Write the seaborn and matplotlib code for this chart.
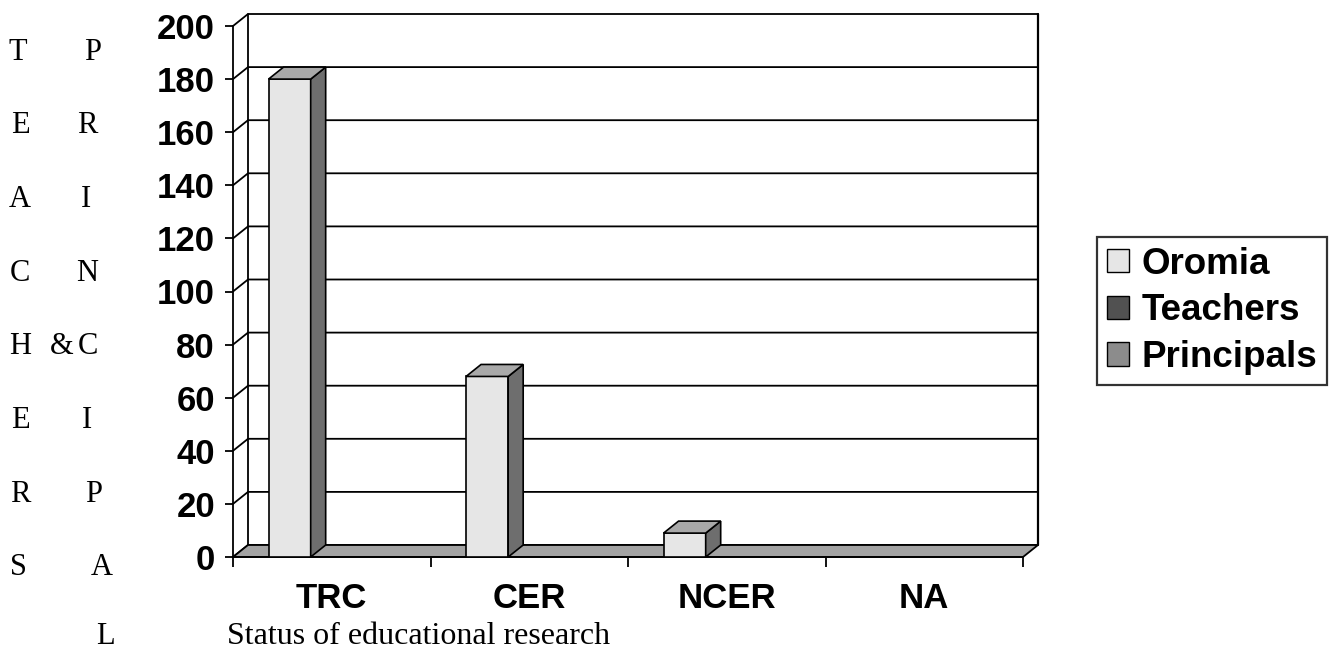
import matplotlib
matplotlib.use("Agg")
import matplotlib.pyplot as plt
from matplotlib.patches import Polygon, Patch
import pandas as pd
import seaborn as sns

# chart data
categories = ["TRC", "CER", "NCER", "NA"]
series_names = ["Oromia", "Teachers", "Principals"]
oromia = [180, 68, 9, 0]
teachers = [0, 0, 0, 0]
principals = [0, 0, 0, 0]
y_ticks = [0, 20, 40, 60, 80, 100, 120, 140, 160, 180, 200]
left_letters = list("TEACHERS")
right_letters = list("PRINCIPAL")

front_colors = {"Oromia": "#e6e6e6", "Teachers": "#515151", "Principals": "#8c8c8c"}
side_colors = {"Oromia": "#6e6e6e", "Teachers": "#333333", "Principals": "#5a5a5a"}
top_colors = {"Oromia": "#a9a9a9", "Teachers": "#404040", "Principals": "#777777"}

W, H = 1342, 653
DEPTH_PX = (15, 12)  # 3d offset of the back wall, in pixels


def fig_xy(x, y):
	# picture pixel -> figure fraction
	return x / W, 1 - y / H


df = pd.DataFrame({
	"status": categories * 3,
	"group": [n for n in series_names for _ in categories],
	"count": oromia + teachers + principals,
})

sns.set_style("white")
plt.rcParams["font.family"] = ["Liberation Sans", "DejaVu Sans"]
plt.rcParams["text.color"] = "black"

fig = plt.figure(figsize=(W / 100, H / 100), dpi=100)
ax = fig.add_axes([233 / W, 96 / H, 790 / W, 531 / H])

sns.barplot(data=df, x="status", y="count", hue="group", order=categories,
			hue_order=series_names, palette=front_colors, width=0.64,
			saturation=1, edgecolor="black", linewidth=1.2, legend=False,
			ax=ax, zorder=4)

ax.set_xlim(-0.5, 3.5)
ax.set_ylim(0, 200)

# size of the depth offset in data units
x0, y0 = ax.transData.transform((0, 0))
x1, y1 = ax.transData.transform((1, 1))
ddx = DEPTH_PX[0] / (x1 - x0)
ddy = DEPTH_PX[1] / (y1 - y0)

# back wall + side wall gridlines
for v in y_ticks:
	ax.plot([-0.5, -0.5 + ddx, 3.5 + ddx], [v, v + ddy, v + ddy],
			color="black", lw=1.3, clip_on=False, zorder=1)
ax.plot([-0.5 + ddx] * 2, [ddy, 200 + ddy], color="black", lw=1.3, clip_on=False, zorder=1)
ax.plot([3.5 + ddx] * 2, [ddy, 200 + ddy], color="black", lw=1.6, clip_on=False, zorder=1)

# floor
floor = Polygon([(-0.5, 0), (3.5, 0), (3.5 + ddx, ddy), (-0.5 + ddx, ddy)],
				closed=True, facecolor="#a3a3a3", edgecolor="black", lw=1.3,
				clip_on=False, zorder=2)
ax.add_patch(floor)

# side and top faces of the bars
for name, cont in zip(series_names, ax.containers):
	for bar in cont:
		bx, bw, bh = bar.get_x(), bar.get_width(), bar.get_height()
		if bh <= 0:
			bar.set_visible(False)
			continue
		side = Polygon([(bx + bw, 0), (bx + bw + ddx, ddy), (bx + bw + ddx, bh + ddy), (bx + bw, bh)],
					   closed=True, facecolor=side_colors[name], edgecolor="black", lw=1.2,
					   clip_on=False, zorder=4)
		top = Polygon([(bx, bh), (bx + ddx, bh + ddy), (bx + bw + ddx, bh + ddy), (bx + bw, bh)],
					  closed=True, facecolor=top_colors[name], edgecolor="black", lw=1.2,
					  clip_on=False, zorder=4)
		ax.add_patch(side)
		ax.add_patch(top)

# axes, ticks
ax.set_xlabel("")
ax.set_ylabel("")
ax.set_xticks(range(len(categories)))
ax.set_xticklabels(categories)
ax.set_xticks([-0.5, 0.5, 1.5, 2.5, 3.5], minor=True)
ax.set_yticks(y_ticks)
ax.tick_params(axis="x", which="major", bottom=False, length=0, pad=18, labelsize=25)
ax.tick_params(axis="x", which="minor", bottom=True, length=7, width=1.3, color="black", direction="out")
ax.tick_params(axis="y", which="major", left=True, length=6, width=1.3, color="black",
			   direction="out", pad=7, labelsize=25)
plt.setp(ax.get_xticklabels() + ax.get_yticklabels(), fontweight="bold", color="black")

for s in ["top", "right"]:
	ax.spines[s].set_visible(False)
for s in ["left", "bottom"]:
	ax.spines[s].set_color("black")
	ax.spines[s].set_linewidth(1.3)
ax.set_facecolor("none")

# legend
handles = [Patch(facecolor=front_colors[n], edgecolor="black", label=n) for n in series_names]
leg = fig.legend(handles=handles, loc="upper left", bbox_to_anchor=fig_xy(1097, 237),
				 frameon=True, fancybox=False, edgecolor="black",
				 prop={"weight": "bold", "size": 26.5}, handlelength=0.6, handleheight=0.6,
				 handletextpad=0.35, labelspacing=0.32, borderpad=0.26, borderaxespad=0)
leg.get_frame().set_linewidth(1.6)

# x axis title and the vertical side words
serif = ["Liberation Serif", "DejaVu Serif"]
fig.text(*fig_xy(227, 637), "Status of educational research", family=serif, size=23,
		 ha="left", va="center")

left_x = [18, 20, 20, 20, 20, 20, 20, 18]
right_x = [93, 87, 86, 87, 88, 87, 94, 102, 105]
row_y = [52 + 73.7 * i for i in range(8)] + [637]
for i, ch in enumerate(left_letters):
	fig.text(*fig_xy(left_x[i], row_y[i]), ch, family=serif, size=22, ha="center", va="center")
for i, ch in enumerate(right_letters):
	fig.text(*fig_xy(right_x[i], row_y[i]), ch, family=serif, size=22, ha="center", va="center")
fig.text(*fig_xy(62, row_y[4]), "&", family=serif, size=22, ha="center", va="center")

fig.savefig("out.png", dpi=100)
